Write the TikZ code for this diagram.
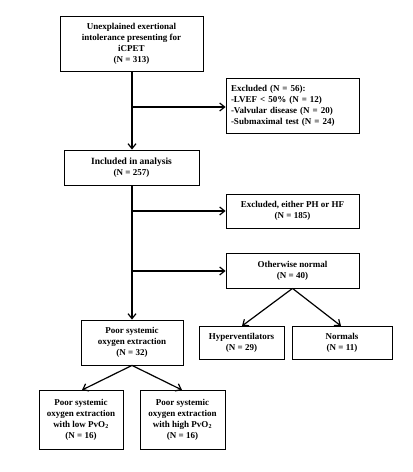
\documentclass[tikz,border=0pt]{standalone}
\usepackage{fontspec}
\setmainfont{Liberation Serif}
\usetikzlibrary{arrows.meta,shadows}
\begin{document}
\begin{tikzpicture}[x=1pt,y=-1pt,
  box/.style={draw=black,line width=0.8pt,fill=white,align=center,inner sep=2pt,
    font=\fontsize{9}{11}\selectfont\bfseries},
  sbox/.style={box,drop shadow={shadow xshift=0.9pt,shadow yshift=-0.9pt,fill=black!80,opacity=1}},
  arr/.style={line width=1.2pt,-{Straight Barb[length=5pt,width=8pt,line width=1.2pt]}},
  ln/.style={line width=1.2pt}]
\useasboundingbox (0,0) rectangle (413,472);
\node[box,minimum width=143pt,minimum height=55pt] (start) at (131.5,43.5)
  {Unexplained exertional\\intolerance presenting for\\iCPET\\(N = 313)};
\node[box,minimum width=133pt,minimum height=55pt,align=left,text width=123pt] (excl) at (292.5,105.5)
  {Excluded (N = 56):\\-LVEF < 50\% (N = 12)\\-Valvular disease (N = 20)\\-Submaximal test (N = 24)};
\node[box,minimum width=135pt,minimum height=35pt] (incl) at (131.5,167.5)
  {{\fontsize{9.5}{11}\selectfont Included in analysis}\\(N = 257)};
\node[box,minimum width=133pt,minimum height=34pt] (phhf) at (292.5,211)
  {Excluded, either PH or HF\\(N = 185)};
\node[box,minimum width=133pt,minimum height=35pt] (other) at (292.5,270.5)
  {Otherwise normal\\(N = 40)};
\node[box,minimum width=102pt,minimum height=45pt] (poor) at (132,342.5)
  {Poor systemic\\oxygen extraction\\(N = 32)};
\node[sbox,minimum width=85pt,minimum height=33pt] (hyper) at (241.5,342.5)
  {Hyperventilators\\(N = 29)};
\node[sbox,minimum width=100pt,minimum height=33pt] (norm) at (342,342.5)
  {Normals\\(N = 11)};
\node[sbox,minimum width=84pt,minimum height=59pt] (low) at (81,419.5)
  {Poor systemic\\oxygen extraction\\with low PvO\textsubscript{2}\\(N = 16)};
\node[sbox,minimum width=85pt,minimum height=59pt] (high) at (182.5,419.5)
  {Poor systemic\\oxygen extraction\\with high PvO\textsubscript{2}\\(N = 16)};
\coordinate (b1) at (132,107);
\coordinate (b2) at (132,211);
\coordinate (b3) at (132,271);
\draw[arr] (start.south -| b1) -- (incl.north -| b1);
\draw[arr] (b1) -- (excl.west |- b1);
\draw[arr] (incl.south -| b2) -- (poor.north -| b2);
\draw[arr] (b2) -- (phhf.west |- b2);
\draw[arr] (b3) -- (other.west |- b3);
\draw[arr] (other.south) -- (242,326);
\draw[arr] (other.south) -- (341,326);
\draw[arr] (poor.south) -- (82,390);
\draw[arr] (poor.south) -- (182,390);
\end{tikzpicture}
\end{document}
